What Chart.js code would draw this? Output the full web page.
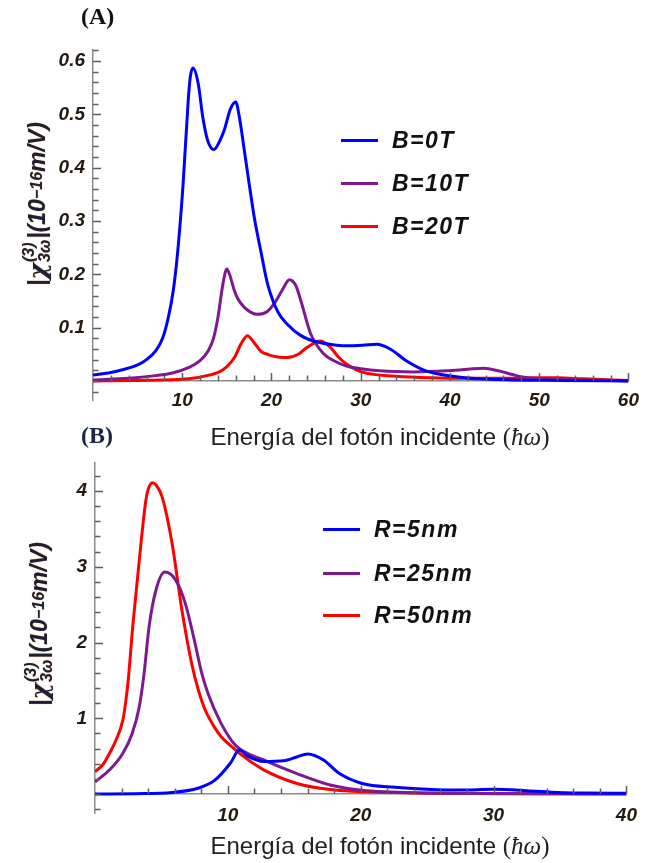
<!DOCTYPE html>
<html>
<head>
<meta charset="utf-8">
<script src="https://cdn.jsdelivr.net/npm/chart.js@4.4.1/dist/chart.umd.min.js"></script>
<style>
  body { margin: 0; background: #fff; width: 647px; height: 863px; position: relative; overflow: hidden; }
  canvas { position: absolute; left: 0; }
  .lbl { position: absolute; font-family: 'Liberation Serif', serif; font-weight: bold; font-size: 24px; color: #111; }
  .xtitle { position: absolute; transform: translateX(-50%); white-space: nowrap;
    font-family: 'Liberation Sans', Arial, sans-serif; font-size: 24px; color: #222; }
  .xtitle .h { font-family: 'Liberation Serif', serif; font-size: 25px; }
  .ytitle { position: absolute; transform: translate(-50%, -50%) rotate(-90deg); white-space: nowrap;
    font-family: 'Liberation Sans', Arial, sans-serif; font-weight: bold; font-style: italic; font-size: 23px;
    color: #1b2038; text-shadow: 0 0 1px #d98a2e; display: flex; align-items: center; }
  .ytitle .ss { display: inline-flex; flex-direction: column; font-size: 16px; line-height: 16px; margin: 0 1px; }
  .ytitle sup { font-size: 16px; }
  .ytitle .chi { font-family: 'DejaVu Serif', serif; font-size: 25px; }
  .leg { position: absolute; display: flex; align-items: center; }
  .leg i { display: block; width: 37px; height: 3px; margin-right: 14px; }
  .leg span { font-family: 'Liberation Sans', Arial, sans-serif; font-weight: bold; font-style: italic;
    font-size: 23px; letter-spacing: 1.5px; color: #111; }
</style>
</head>
<body>
<canvas id="chartA" width="647" height="420" style="top:0"></canvas>
<canvas id="chartB" width="647" height="433" style="top:430px"></canvas>
<div id="overlay"></div>
<script>
// ---- datos panel (A): campo magnetico ----
const aLabels = ['B=0T', 'B=10T', 'B=20T'];
const aX0 = [0, 2, 3.3, 5, 6, 7, 7.8, 8.44, 9, 9.5, 10.1, 10.67, 10.9, 11.2, 11.8, 12.3, 12.85, 13.55, 14.2, 14.7, 15.4, 16.0, 16.4, 16.96, 17.5, 18.07, 18.8, 19.56, 20.7, 21.8, 23.3, 24.7, 26.5, 28.4, 30.2, 31.8, 33.3, 35.1, 37.3, 40.3, 43.2, 47, 52, 60];
const aY0 = [0.011, 0.016, 0.021, 0.03, 0.04, 0.056, 0.08, 0.119, 0.17, 0.244, 0.37, 0.526, 0.57, 0.587, 0.557, 0.495, 0.451, 0.434, 0.45, 0.47, 0.51, 0.523, 0.495, 0.432, 0.37, 0.307, 0.244, 0.182, 0.13, 0.106, 0.085, 0.075, 0.069, 0.066, 0.067, 0.069, 0.06, 0.038, 0.019, 0.009, 0.004, 0.002, 0.001, 0];
const aX10 = [0, 4, 7, 8.9, 10.7, 12, 12.9, 13.5, 14, 14.56, 15.0, 15.3, 15.6, 15.85, 16.2, 16.96, 18.4, 19.5, 20.3, 21.2, 22.0, 22.7, 23.3, 24.4, 25.9, 27, 28.4, 30, 32.1, 35.9, 39.6, 42, 43.8, 45.4, 47, 48.1, 50.7, 55, 60];
const aY10 = [0.002, 0.005, 0.01, 0.015, 0.025, 0.038, 0.056, 0.08, 0.119, 0.182, 0.21, 0.2, 0.183, 0.169, 0.155, 0.138, 0.125, 0.13, 0.145, 0.17, 0.19, 0.18, 0.15, 0.088, 0.05, 0.038, 0.028, 0.023, 0.019, 0.017, 0.019, 0.022, 0.024, 0.019, 0.012, 0.0075, 0.004, 0.002, 0];
const aX20 = [0, 5, 10.7, 13, 14.4, 15.85, 16.6, 17.3, 18, 18.8, 19.7, 20.7, 21.8, 23, 24, 25.5, 26.6, 27.5, 28.4, 30.3, 34, 37.8, 42, 46, 50, 52, 55, 60];
const aY20 = [0, 0.001, 0.004, 0.011, 0.019, 0.044, 0.07, 0.085, 0.073, 0.056, 0.049, 0.045, 0.044, 0.05, 0.063, 0.075, 0.063, 0.045, 0.032, 0.016, 0.009, 0.006, 0.005, 0.005, 0.006, 0.006, 0.004, 0.001];

// ---- datos panel (B): radio del punto ----
const bLabels = ['R=5nm', 'R=25nm', 'R=50nm'];
const bX5 = [0, 3, 5.8, 7.8, 9.0, 10.2, 10.86, 11.5, 12.7, 14.2, 15.2, 16.0, 17.2, 18.4, 20.1, 22.6, 25, 27.5, 30, 32.5, 34.9, 37, 40];
const bY5 = [0, 0.005, 0.02, 0.08, 0.18, 0.41, 0.58, 0.5, 0.43, 0.44, 0.49, 0.53, 0.45, 0.27, 0.14, 0.09, 0.065, 0.053, 0.062, 0.045, 0.02, 0.013, 0.01];
const bX25 = [0, 1.1, 2.1, 2.8, 3.33, 3.7, 4.07, 4.6, 5.26, 6.05, 6.79, 7.53, 8.0, 8.5, 9.5, 10.6, 12.7, 15.2, 17.7, 20.1, 25, 30, 40];
const bY25 = [0.16, 0.32, 0.54, 0.8, 1.15, 1.6, 2.21, 2.7, 2.93, 2.83, 2.52, 1.99, 1.62, 1.33, 0.93, 0.64, 0.45, 0.27, 0.12, 0.05, 0.015, 0.008, 0.003];
const bX50 = [0, 0.6, 1.1, 1.6, 2.1, 2.3, 2.5, 2.84, 3.2, 3.46, 3.83, 4.0, 4.32, 4.6, 5.06, 5.8, 6.54, 7.28, 7.8, 8.27, 9.0, 9.5, 10.6, 11, 12.7, 15.2, 17.7, 22.6, 30, 40];
const bY50 = [0.295, 0.39, 0.54, 0.72, 0.98, 1.2, 1.5, 2.21, 2.85, 3.31, 3.88, 4.02, 4.11, 4.08, 3.92, 3.31, 2.43, 1.72, 1.36, 1.12, 0.88, 0.757, 0.58, 0.52, 0.32, 0.14, 0.06, 0.02, 0.005, 0.001];

// ---- ejes y marcas ----
const aXTicks = [10, 20, 30, 40, 50, 60];
const aYTicks = [0.1, 0.2, 0.3, 0.4, 0.5, 0.6];
const bXTicks = [10, 20, 30, 40];
const bYTicks = [1, 2, 3, 4];

const COLORS = ['#0000ff', '#7d1a8f', '#ff0000'];
const TICK_FONT = { family: 'Liberation Sans', size: 19, weight: 'bold', style: 'italic' };

function range(from, to, step) {
  const out = [];
  const n = Math.round((to - from) / step);
  for (let i = 0; i <= n; i++) out.push(Math.round((from + i * step) * 1000) / 1000);
  return out;
}

// marcas hacia dentro, estilo Mathematica
function makeInnerTicks(cfg) {
  return {
    id: 'innerTicks' + cfg.key,
    afterDraw(chart) {
      const ctx = chart.ctx;
      const xs = chart.scales.x;
      const ys = chart.scales.y;
      const y0 = ys.getPixelForValue(0);
      const left = chart.chartArea.left;
      ctx.save();
      ctx.strokeStyle = '#5e5e5e';
      ctx.lineWidth = 1.5;
      ctx.beginPath();
      cfg.xMinor.forEach(v => {
        const px = Math.round(xs.getPixelForValue(v)) + 0.5;
        const len = cfg.xTicks.includes(v) ? 8 : 5.5;
        ctx.moveTo(px, y0);
        ctx.lineTo(px, y0 - len);
      });
      cfg.yMinor.forEach(v => {
        const py = Math.round(ys.getPixelForValue(v)) + 0.5;
        const len = cfg.yTicks.includes(v) ? 8 : 5.5;
        ctx.moveTo(left, py);
        ctx.lineTo(left + len, py);
      });
      ctx.stroke();
      ctx.restore();
    },
  };
}

function makeDatasets(labels, xs, ys) {
  return labels.map((label, i) => ({
    label,
    data: xs[i].map((x, j) => ({ x, y: ys[i][j] })),
    borderColor: COLORS[i],
    borderWidth: 3,
    pointRadius: 0,
    cubicInterpolationMode: 'monotone',
    fill: false,
  }));
}

function renderPanel(canvasId, cfg) {
  const canvas = document.getElementById(canvasId);
  return new Chart(canvas.getContext('2d'), {
    type: 'line',
    data: { datasets: makeDatasets(cfg.labels, cfg.xs, cfg.ys) },
    options: {
      responsive: false,
      animation: false,
      devicePixelRatio: 1,
      layout: { padding: cfg.padding },
      plugins: {
        legend: { display: false },
        tooltip: { enabled: false },
      },
      scales: {
        x: {
          type: 'linear',
          position: { y: 0 },
          min: 0,
          max: cfg.xMax,
          grid: { display: false, drawTicks: false },
          border: { color: '#8c8c8c', width: 1.5 },
          ticks: {
            stepSize: 10,
            padding: cfg.xPad,
            color: '#241a10',
            font: TICK_FONT,
            maxRotation: 0,
            autoSkip: false,
            callback: v => cfg.xTicks.includes(v) ? String(v) : '',
          },
        },
        y: {
          min: cfg.yMin,
          max: cfg.yMax,
          afterFit: s => { s.width = cfg.yWidth; },
          grid: { display: false, drawTicks: false },
          border: { color: '#8c8c8c', width: 1.5 },
          ticks: {
            stepSize: cfg.yStep,
            includeBounds: false,
            padding: 8,
            color: '#241a10',
            font: TICK_FONT,
            callback: v => {
              const r = Math.round(v * 100) / 100;
              return cfg.yTicks.includes(r) ? cfg.fmt(r) : '';
            },
          },
        },
      },
    },
    plugins: [makeInnerTicks(cfg)],
  });
}

renderPanel('chartA', {
  key: 'A',
  labels: aLabels,
  xs: [aX0, aX10, aX20],
  ys: [aY0, aY10, aY20],
  padding: { top: 50, right: 14, bottom: 20, left: 0 },
  yWidth: 93,
  xMax: 60, yMin: -0.0357, yMax: 0.6207, yStep: 0.1,
  xTicks: aXTicks, yTicks: aYTicks,
  xMinor: range(2, 60, 2), yMinor: range(-0.02, 0.62, 0.02),
  xPad: 8,
  fmt: v => v.toFixed(1),
});

renderPanel('chartB', {
  key: 'B',
  labels: bLabels,
  xs: [bX5, bX25, bX50],
  ys: [bY5, bY25, bY50],
  padding: { top: 33, right: 12, bottom: 50, left: 0 },
  yWidth: 95,
  xMax: 40, yMin: -0.25, yMax: 4.37, yStep: 1,
  xTicks: bXTicks, yTicks: bYTicks,
  xMinor: range(2, 40, 2), yMinor: range(-0.2, 4.2, 0.2),
  xPad: 10,
  fmt: v => String(v),
});

// ---- textos fuera del grafico ----
const overlay = document.getElementById('overlay');
function addHtml(html) { overlay.insertAdjacentHTML('beforeend', html); }

const yTitle = '|<span class="chi">χ</span><span class="ss"><span>(3)</span><span>3ω</span></span>|(10<sup>−16</sup>m/V)';
const xTitle = 'Energía del fotón incidente <span class="h">(<i>ħω</i>)</span>';

addHtml(`<div class="lbl" style="left:81px;top:3px">(A)</div>`);
addHtml(`<div class="lbl" style="left:81px;top:422px;color:#1a2540">(B)</div>`);
addHtml(`<div class="ytitle" style="left:37px;top:204px">${yTitle}</div>`);
addHtml(`<div class="ytitle" style="left:39px;top:624px">${yTitle}</div>`);
addHtml(`<div class="xtitle" style="left:380px;top:423px">${xTitle}</div>`);
addHtml(`<div class="xtitle" style="left:380px;top:832px">${xTitle}</div>`);

const aLegY = [140, 183, 226];
const bLegY = [529, 573, 615];
aLabels.forEach((t, i) => addHtml(`<div class="leg" style="left:341px;top:${aLegY[i] - 14}px;height:28px"><i style="background:${COLORS[i]}"></i><span>${t}</span></div>`));
bLabels.forEach((t, i) => addHtml(`<div class="leg" style="left:323px;top:${bLegY[i] - 14}px;height:28px"><i style="background:${COLORS[i]}"></i><span>${t}</span></div>`));
</script>
</body>
</html>
